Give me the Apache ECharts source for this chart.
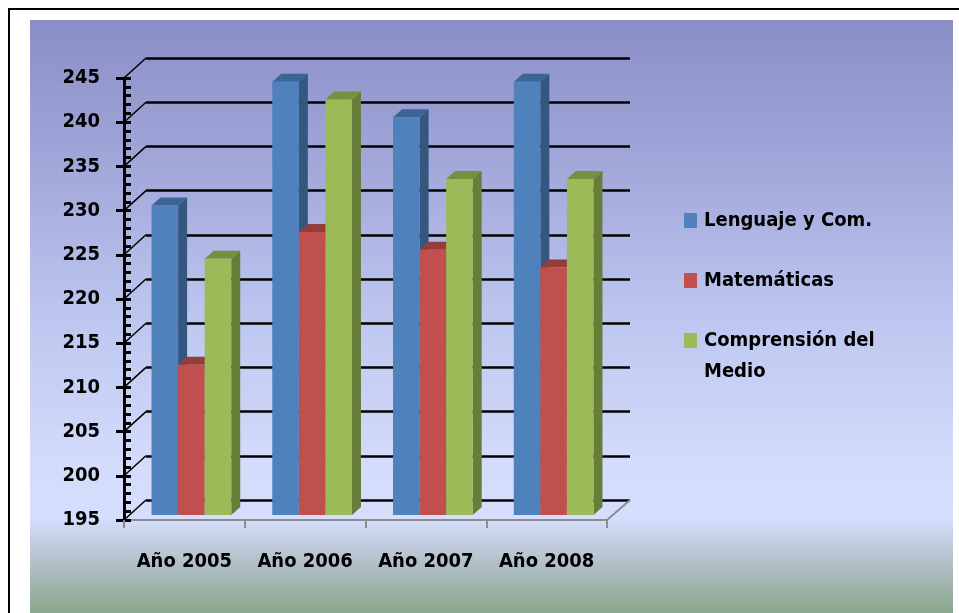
<!DOCTYPE html>
<html>
<head>
<meta charset="utf-8">
<title>Resultados por año</title>
<script src="https://cdn.jsdelivr.net/npm/echarts@6/dist/echarts.min.js"></script>
<style>
html, body { margin: 0; padding: 0; background: #fff; }
#main { width: 959px; height: 613px; }
</style>
</head>
<body>
<div id="main"></div>
<script type="text/javascript">
// --- datos ---
var years = ['Año 2005', 'Año 2006', 'Año 2007', 'Año 2008'];
var lenguaje = [230, 244, 240, 244];
var matematicas = [212, 227, 225, 223];
var comprension = [224, 242, 233, 233];
var yTicks = [195, 200, 205, 210, 215, 220, 225, 230, 235, 240, 245];
var names = ['Lenguaje y Com.', 'Matemáticas', 'Comprensión del Medio'];

var font = '"DejaVu Sans Condensed", "Liberation Sans Narrow", sans-serif';
var colors = [
    { front: '#4f81bd', top: '#3c6494', side: '#34577f' },
    { front: '#c0504d', top: '#943d3a', side: '#8a3936' },
    { front: '#9bbb59', top: '#76903f', side: '#677d3a' }
];
var yMin = 195, yMax = 245;

var myChart = echarts.init(document.getElementById('main'));

// barra con cara frontal, lateral y superior
function bar3d(k) {
    var c = colors[k];
    return function (params, api) {
        var i = api.value(0), v = api.value(1);
        var top = api.coord([i, v]);
        var base = api.coord([i, yMin]);
        var band = api.size([1, 0])[0];
        var x0 = top[0] - band / 2 + band * (0.228 + k * 0.22);
        var x1 = x0 + band * 0.22;
        var yt = top[1] - 5, yb = base[1] - 5;
        var dx = 9, dy = -8;
        return {
            type: 'group',
            children: [
                { type: 'polygon', shape: { points: [[x1, yt], [x1 + dx, yt + dy], [x1 + dx, yb + dy], [x1, yb]] }, style: { fill: c.side } },
                { type: 'polygon', shape: { points: [[x0, yt], [x0 + dx, yt + dy], [x1 + dx, yt + dy], [x1, yt]] }, style: { fill: c.top } },
                { type: 'rect', shape: { x: x0, y: yt, width: x1 - x0, height: yb - yt }, style: { fill: c.front } }
            ]
        };
    };
}

function pairs(arr) {
    return arr.map(function (v, i) { return [i, v]; });
}

var barSeries = [lenguaje, matematicas, comprension].map(function (vals, k) {
    return {
        name: names[k],
        type: 'custom',
        xAxisIndex: 1,
        yAxisIndex: 1,
        itemStyle: { color: colors[k].front },
        encode: { x: 0, y: 1 },
        renderItem: bar3d(k),
        data: pairs(vals),
        z: 5
    };
});

// diagonales de la pared izquierda
var sideLines = {
    type: 'custom',
    xAxisIndex: 1,
    yAxisIndex: 1,
    silent: true,
    encode: { x: 0, y: 1 },
    data: yTicks.map(function (v) { return [0, v]; }),
    renderItem: function (params, api) {
        var p = api.coord([0, api.value(1)]);
        var x = params.coordSys.x;
        return { type: 'line', shape: { x1: x, y1: p[1], x2: x + 22, y2: p[1] - 20 }, style: { stroke: '#000', lineWidth: 1.5 } };
    },
    z: 3
};

// borde derecho del piso
var floorLine = {
    type: 'custom',
    xAxisIndex: 1,
    yAxisIndex: 1,
    silent: true,
    encode: { x: 0, y: 1 },
    data: [[3, yMin]],
    renderItem: function (params, api) {
        var p = api.coord([3, yMin]);
        var x = params.coordSys.x + params.coordSys.width;
        return { type: 'line', shape: { x1: x, y1: p[1], x2: x + 23, y2: p[1] - 20 }, style: { stroke: '#8c8c8c', lineWidth: 2 } };
    },
    z: 3
};

var labelStyle = { color: '#000', fontFamily: font, fontWeight: 'bold', fontSize: 20 };
var legendText = { color: '#000', fontFamily: font, fontWeight: 'bold', fontSize: 20, lineHeight: 31, padding: [0, 0, 0, 2] };

myChart.setOption({
    animation: false,
    graphic: [
        { type: 'rect', z: -100, shape: { x: 9, y: 9, width: 960, height: 620 }, style: { fill: '#fff', stroke: '#000', lineWidth: 2 } },
        {
            type: 'rect', z: -99, shape: { x: 30, y: 20, width: 923, height: 593 },
            style: {
                fill: new echarts.graphic.LinearGradient(0, 0, 0, 1, [
                    { offset: 0, color: '#8a8ec6' },
                    { offset: 0.25, color: '#a2a8da' },
                    { offset: 0.5, color: '#bdc6ef' },
                    { offset: 0.75, color: '#d3dcfb' },
                    { offset: 0.84, color: '#d5defc' },
                    { offset: 0.92, color: '#b0bec6' },
                    { offset: 1, color: '#8aa68c' }
                ])
            }
        }
    ],
    legend: [
        {
            data: names.slice(0, 2),
            orient: 'vertical',
            left: 684,
            top: 205,
            padding: 0,
            itemWidth: 13,
            itemHeight: 15,
            itemGap: 29,
            icon: 'rect',
            selectedMode: false,
            textStyle: legendText
        },
        {
            data: names.slice(2),
            orient: 'vertical',
            left: 684,
            top: 294,
            padding: 0,
            itemWidth: 13,
            itemHeight: 15,
            icon: 'rect',
            selectedMode: false,
            // línea vacía arriba para que el icono quede junto a la primera línea
            formatter: function () { return '\u00a0\nComprensión del\nMedio'; },
            textStyle: legendText
        }
    ],
    grid: [
        { left: 146, top: 58, width: 484, height: 442 },
        { left: 124, top: 78, width: 483, height: 442 }
    ],
    xAxis: [
        { gridIndex: 0, type: 'category', data: years, show: false },
        {
            gridIndex: 1, type: 'category', data: years,
            axisLine: { lineStyle: { color: '#8c8c8c', width: 2 } },
            axisTick: { show: true, length: 8, lineStyle: { color: '#8c8c8c', width: 2 } },
            axisLabel: Object.assign({ margin: 32, interval: 0 }, labelStyle)
        }
    ],
    yAxis: [
        {
            gridIndex: 0, type: 'value', min: yMin, max: yMax, interval: 5,
            axisLine: { show: false }, axisTick: { show: false }, axisLabel: { show: false },
            splitLine: { show: true, lineStyle: { color: '#000', width: 2.5 } }
        },
        {
            gridIndex: 1, type: 'value', position: 'left', min: yMin, max: yMax, interval: 5,
            axisLine: { show: true, lineStyle: { color: '#000', width: 3 } },
            axisTick: { show: true, length: 8, lineStyle: { color: '#000', width: 3 } },
            axisLabel: Object.assign({ margin: 24 }, labelStyle),
            splitLine: { show: false }
        },
        {
            gridIndex: 1, type: 'value', position: 'left', offset: 0, min: yMin, max: yMax, interval: 1,
            axisLine: { show: false },
            axisTick: { show: true, inside: true, length: 7, lineStyle: { color: '#000', width: 3 } },
            axisLabel: { show: false },
            splitLine: { show: false }
        }
    ],
    series: barSeries.concat([sideLines, floorLine])
});
</script>
</body>
</html>
